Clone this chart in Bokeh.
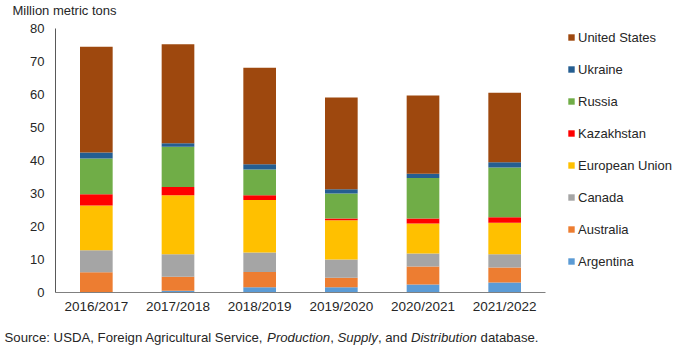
from bokeh.plotting import figure
from bokeh.layouts import column
from bokeh.models import Range1d, FixedTicker, Legend, LegendItem, ColumnDataSource
from bokeh.core.properties import value
from bokeh.embed import file_html
from bokeh.resources import INLINE

years = ["2016/2017", "2017/2018", "2018/2019", "2019/2020", "2020/2021", "2021/2022"]
argentina = [0.1, 0.5, 1.6, 1.6, 2.4, 3.0]
australia = [6.0, 4.3, 4.6, 2.9, 5.5, 4.6]
canada = [6.7, 6.8, 5.9, 5.5, 3.9, 4.0]
european_union = [13.6, 17.9, 15.9, 11.9, 9.1, 9.5]
kazakhstan = [3.4, 2.5, 1.5, 0.5, 1.5, 1.7]
russia = [10.8, 12.2, 7.8, 7.6, 12.3, 15.1]
ukraine = [1.8, 1.0, 1.6, 1.3, 1.3, 1.6]
united_states = [32.1, 30.0, 29.2, 27.8, 23.7, 21.0]

series_names = ["Argentina", "Australia", "Canada", "European Union",
                "Kazakhstan", "Russia", "Ukraine", "United States"]
series_values = [argentina, australia, canada, european_union,
                 kazakhstan, russia, ukraine, united_states]
colors = ["#5B9BD5", "#ED7D31", "#A5A5A5", "#FFC000",
          "#FF0000", "#70AD47", "#255E91", "#9E480E"]

FONT = "Liberation Sans"
TXT = "#262626"


def text_strip(height, xs, ys, texts, styles, size):
    s = ColumnDataSource(dict(x=xs, y=ys, text=texts, style=styles))
    fig = figure(width=680, height=height, x_range=Range1d(0, 680),
                 y_range=Range1d(0, height), output_backend="svg",
                 toolbar_location=None, min_border=0)
    fig.frame_align = False
    fig.axis.visible = False
    fig.grid.visible = False
    fig.outline_line_color = None
    fig.text(x="x", y="y", text="text", source=s, text_font=value(FONT),
             text_font_size=size, text_font_style="style", text_color=TXT,
             text_baseline="middle", text_align="left")
    return fig


# header: unit label
header = text_strip(20, [12], [10], ["Million metric tons"], ["normal"], "13px")

# category centres on a numeric axis (slot i spans i .. i+1)
xpos = [i + 0.5 for i in range(len(years))]
data = {"x": xpos}
for n, v in zip(series_names, series_values):
    data[n] = v
src = ColumnDataSource(data)

p = figure(width=680, height=302, x_range=Range1d(0, 7.653),
           y_range=Range1d(0, 80), output_backend="svg", toolbar_location=None,
           min_border_left=55, min_border_right=0, min_border_top=8,
           min_border_bottom=30)
p.frame_align = False
p.outline_line_color = None
p.xgrid.visible = False
p.ygrid.visible = False

renderers = p.vbar_stack(series_names, x="x", width=0.4, fill_color=colors,
                         line_color=None, source=src)

p.yaxis.ticker = FixedTicker(ticks=[0, 10, 20, 30, 40, 50, 60, 70, 80])
p.xaxis.ticker = FixedTicker(ticks=xpos)
p.xaxis.major_label_overrides = {x: y for x, y in zip(xpos, years)}
p.xaxis.bounds = (0, len(years))
for ax in (p.xaxis[0], p.yaxis[0]):
    ax.major_tick_line_color = None
    ax.minor_tick_line_color = None
    ax.major_tick_in = 0
    ax.major_tick_out = 0
    ax.minor_tick_out = 0
    ax.major_label_text_font = FONT
    ax.major_label_text_font_size = "13px"
    ax.major_label_text_color = TXT
p.yaxis.axis_line_color = "#595959"
p.xaxis.axis_line_color = "#808080"
p.yaxis.major_label_standoff = 11
p.xaxis.major_label_standoff = 6
p.xaxis.major_label_text_font_size = "13.5px"

items = [LegendItem(label=n, renderers=[r]) for n, r in zip(series_names, renderers)]
items.reverse()
legend = Legend(items=items, location=(512, 21), glyph_width=8, glyph_height=8,
                label_standoff=3, label_height=20, spacing=12, padding=0, margin=0,
                border_line_color=None, background_fill_alpha=0,
                label_text_font=FONT, label_text_font_size="13px",
                label_text_color=TXT, label_text_baseline="middle")
p.add_layout(legend, "center")

# footer with the source line (mixed roman / italic)
seg_text = ["Source: USDA, Foreign Agricultural Service,", "Production", ",",
            "Supply", ", and", "Distribution", "database."]
seg_style = ["normal", "italic", "normal", "italic", "normal", "italic", "normal"]
seg_x = [4.0, 266.6, 329.7, 337.0, 377.4, 410.4, 480.1]
footer = text_strip(32, seg_x, [17] * len(seg_x), seg_text, seg_style, "13.2px")

layout = column(header, p, footer, spacing=0)
open("out.html", "w").write(file_html(layout, INLINE))
